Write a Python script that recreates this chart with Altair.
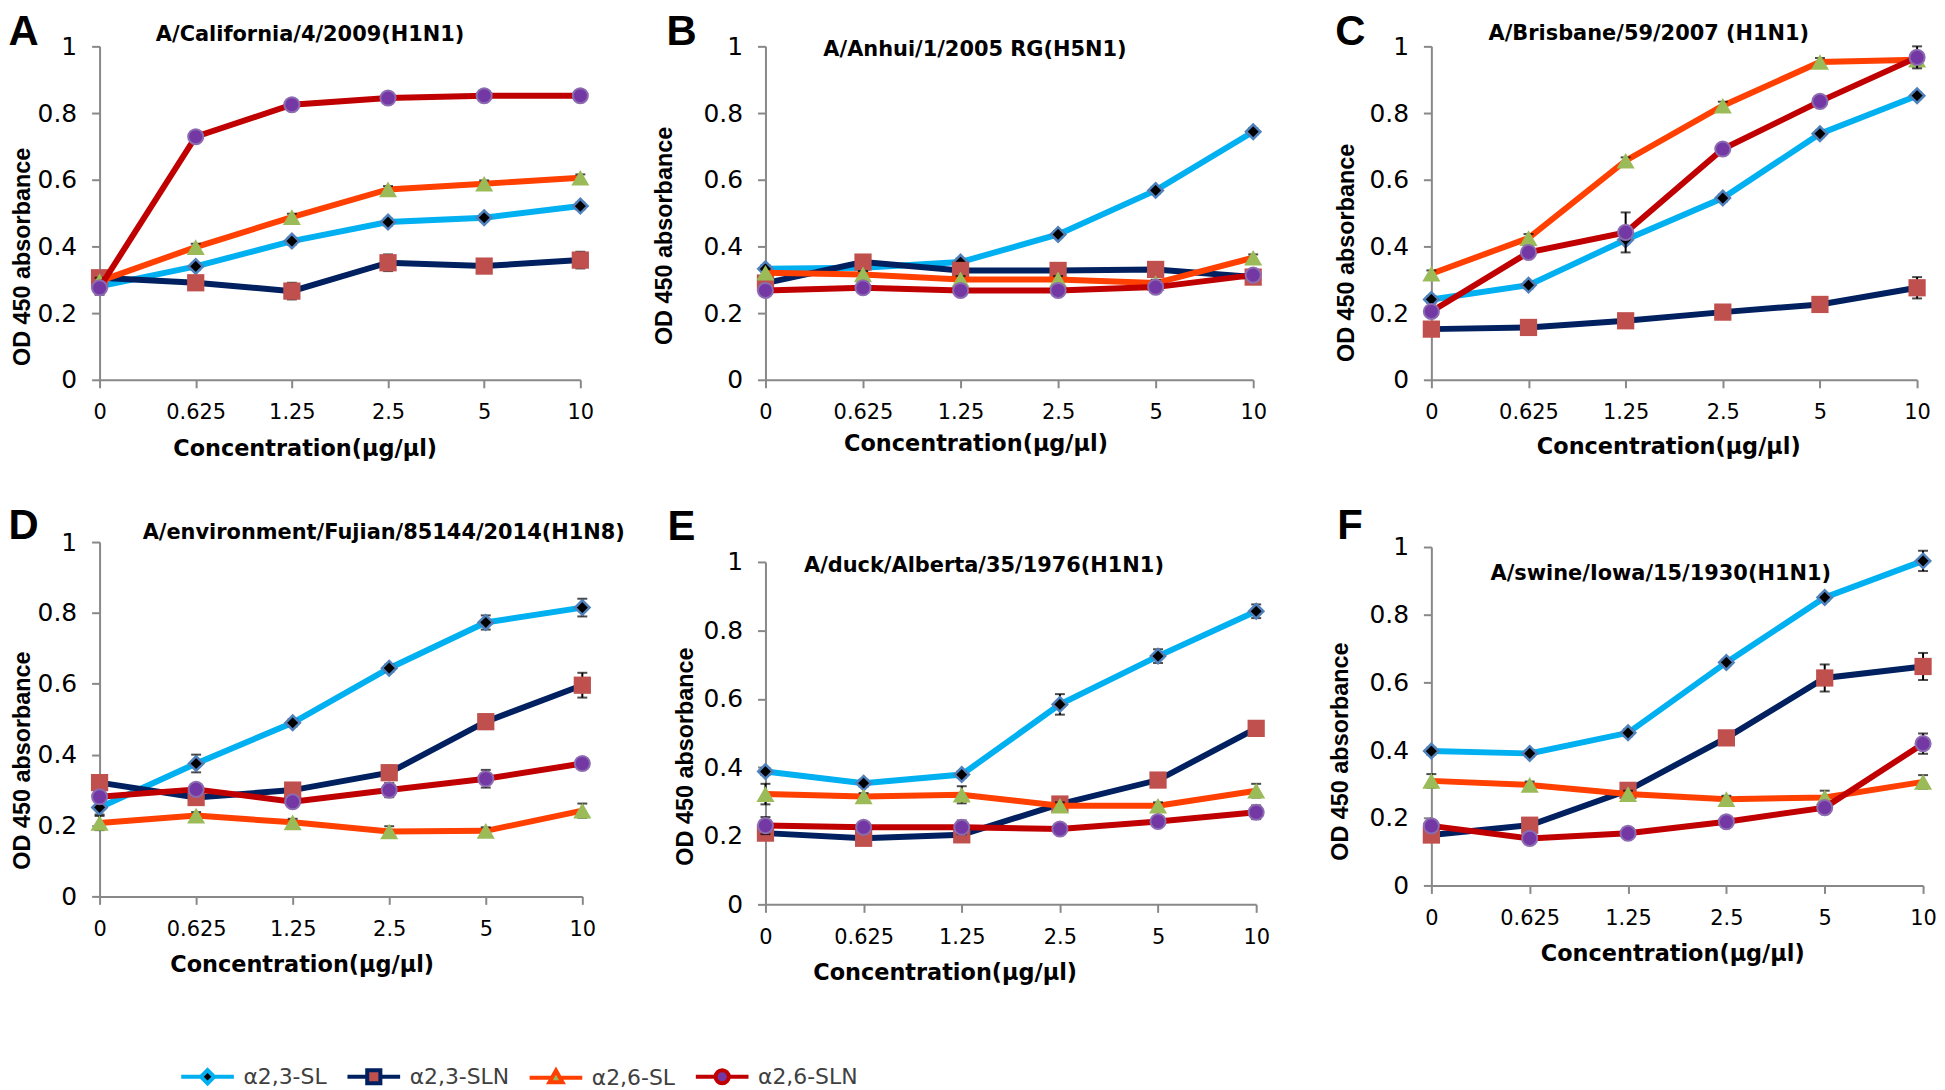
import altair as alt
import pandas as pd

# ---------------- data ----------------
concs = ["0", "0.625", "1.25", "2.5", "5", "10"]
series = ["α2,3-SL", "α2,3-SLN", "α2,6-SL", "α2,6-SLN"]
y_ticks = [0, 0.2, 0.4, 0.6, 0.8, 1]

letters = ["A", "B", "C", "D", "E", "F"]
strains = [
    "A/California/4/2009(H1N1)",
    "A/Anhui/1/2005 RG(H5N1)",
    "A/Brisbane/59/2007 (H1N1)",
    "A/environment/Fujian/85144/2014(H1N8)",
    "A/duck/Alberta/35/1976(H1N1)",
    "A/swine/Iowa/15/1930(H1N1)",
]

# panel A
a_sl23 = [0.280, 0.340, 0.416, 0.473, 0.486, 0.521]
a_sln23 = [0.306, 0.291, 0.266, 0.351, 0.341, 0.359]
a_sl26 = [0.296, 0.398, 0.488, 0.571, 0.588, 0.606]
a_sln26 = [0.276, 0.729, 0.825, 0.845, 0.852, 0.852]
a_sl23_err = [0.025, 0.01, 0.01, 0.01, 0.01, 0.01]
a_sln23_err = [0.01, 0.01, 0.025, 0.025, 0.01, 0.025]
a_sl26_err = [0.01, 0.01, 0.01, 0.01, 0.01, 0.01]
a_sln26_err = [0.01, 0.01, 0.01, 0.01, 0.01, 0.01]

# panel B
b_sl23 = [0.333, 0.336, 0.353, 0.436, 0.568, 0.744]
b_sln23 = [0.290, 0.353, 0.328, 0.328, 0.331, 0.308]
b_sl26 = [0.321, 0.316, 0.301, 0.301, 0.290, 0.366]
b_sln26 = [0.268, 0.276, 0.268, 0.268, 0.278, 0.314]
b_sl23_err = [0.01, 0.01, 0.01, 0.01, 0.01, 0.01]
b_sln23_err = [0.01, 0.01, 0.01, 0.01, 0.01, 0.01]
b_sl26_err = [0.01, 0.01, 0.01, 0.01, 0.01, 0.01]
b_sln26_err = [0.01, 0.01, 0.01, 0.01, 0.01, 0.01]

# panel C
c_sl23 = [0.241, 0.284, 0.420, 0.545, 0.738, 0.852]
c_sln23 = [0.152, 0.157, 0.177, 0.203, 0.226, 0.276]
c_sl26 = [0.318, 0.425, 0.657, 0.822, 0.953, 0.960]
c_sln26 = [0.205, 0.382, 0.442, 0.692, 0.835, 0.967]
c_sl23_err = [0.01, 0.01, 0.01, 0.01, 0.01, 0.01]
c_sln23_err = [0.01, 0.01, 0.01, 0.01, 0.01, 0.032]
c_sl26_err = [0.01, 0.012, 0.01, 0.012, 0.012, 0.01]
c_sln26_err = [0.01, 0.01, 0.06, 0.01, 0.015, 0.033]

# panel D
d_sl23 = [0.251, 0.375, 0.490, 0.644, 0.773, 0.815]
d_sln23 = [0.321, 0.279, 0.300, 0.349, 0.493, 0.596]
d_sl26 = [0.207, 0.228, 0.209, 0.183, 0.185, 0.242]
d_sln26 = [0.281, 0.302, 0.267, 0.300, 0.332, 0.375]
d_sl23_err = [0.02, 0.025, 0.01, 0.01, 0.02, 0.025]
d_sln23_err = [0.01, 0.02, 0.01, 0.02, 0.02, 0.035]
d_sl26_err = [0.02, 0.01, 0.01, 0.015, 0.01, 0.02]
d_sln26_err = [0.01, 0.01, 0.01, 0.02, 0.025, 0.01]

# panel E
e_sl23 = [0.388, 0.354, 0.379, 0.584, 0.725, 0.856]
e_sln23 = [0.208, 0.193, 0.203, 0.293, 0.363, 0.514]
e_sl26 = [0.322, 0.315, 0.320, 0.288, 0.288, 0.332]
e_sln26 = [0.230, 0.225, 0.225, 0.220, 0.242, 0.269]
e_sl23_err = [0.01, 0.01, 0.01, 0.03, 0.02, 0.02]
e_sln23_err = [0.01, 0.01, 0.01, 0.015, 0.01, 0.015]
e_sl26_err = [0.03, 0.01, 0.025, 0.01, 0.01, 0.02]
e_sln26_err = [0.025, 0.01, 0.02, 0.01, 0.01, 0.02]

# panel F
f_sl23 = [0.397, 0.390, 0.451, 0.659, 0.851, 0.959]
f_sln23 = [0.149, 0.178, 0.281, 0.436, 0.613, 0.647]
f_sl26 = [0.309, 0.297, 0.270, 0.255, 0.260, 0.306]
f_sln26 = [0.176, 0.139, 0.154, 0.188, 0.230, 0.419]
f_sl23_err = [0.01, 0.01, 0.01, 0.01, 0.01, 0.03]
f_sln23_err = [0.01, 0.01, 0.01, 0.02, 0.04, 0.04]
f_sl26_err = [0.02, 0.01, 0.01, 0.01, 0.02, 0.02]
f_sln26_err = [0.01, 0.01, 0.01, 0.01, 0.01, 0.03]

panel_values = [
    [a_sl23, a_sln23, a_sl26, a_sln26],
    [b_sl23, b_sln23, b_sl26, b_sln26],
    [c_sl23, c_sln23, c_sl26, c_sln26],
    [d_sl23, d_sln23, d_sl26, d_sln26],
    [e_sl23, e_sln23, e_sl26, e_sln26],
    [f_sl23, f_sln23, f_sl26, f_sln26],
]
panel_errors = [
    [a_sl23_err, a_sln23_err, a_sl26_err, a_sln26_err],
    [b_sl23_err, b_sln23_err, b_sl26_err, b_sln26_err],
    [c_sl23_err, c_sln23_err, c_sl26_err, c_sln26_err],
    [d_sl23_err, d_sln23_err, d_sl26_err, d_sln26_err],
    [e_sl23_err, e_sln23_err, e_sl26_err, e_sln26_err],
    [f_sl23_err, f_sln23_err, f_sl26_err, f_sln26_err],
]

# ---------------- styles ----------------
line_colors = ["#00B0F0", "#002060", "#FF4000", "#C00000"]
marker_fills = ["#000000", "#C0504D", "#9BBB59", "#7338A4"]
marker_strokes = ["#4F81BD", "#C0504D", "#9BBB59", "#8C6BB1"]
marker_stroke_w = [2.5, 0, 0, 2]
marker_shapes = ["diamond", "square", "triangle-up", "circle"]
marker_sizes = [210, 300, 330, 230]
# legend symbols: line segment with the series marker in the middle
legend_paths = [
    "M-4,0H-1M1,0H4M0,-1L1,0L0,1L-1,0Z",
    "M-4,0H-1M1,0H4M-1,-1H1V1H-1Z",
    "M-4,0H-0.6M0.6,0H4M0,-1.1L1,0.7H-1Z",
    "M-4,0H-1M1,0H4M-1,0A1,1,0,1,0,1,0A1,1,0,1,0,-1,0Z",
]
AXC = "#888888"
WIDE = "DejaVu Sans"
ARIAL = "Liberation Sans"

layout = [
    dict(w=483, h=335, yr=None, ytx=-70, yty=211, xtx=206, xty=76, stx=211, sty=-6, ltx=-575, lty=-2),
    dict(w=490, h=335, yr=None, ytx=-94, yty=190, xtx=211, xty=71, stx=210, sty=9, ltx=-590, lty=-2),
    dict(w=488, h=335, yr=None, ytx=-78, yty=207, xtx=238, xty=74, stx=218, sty=-7, ltx=-585, lty=-2),
    dict(w=485, h=356, yr=[356, 0], ytx=-70, yty=219, xtx=203, xty=75, stx=285, sty=-4, ltx=-577, lty=-4),
    dict(w=493, h=364, yr=[364, 20], ytx=-73, yty=215, xtx=180, xty=76, stx=219, sty=30, ltx=-592, lty=-3),
    dict(w=494, h=345, yr=[345, 5], ytx=-84, yty=210, xtx=242, xty=75, stx=230, sty=38, ltx=-589, lty=-4),
]


def frame(vals, errs):
    rows = []
    for si, name in enumerate(series):
        for ci, c in enumerate(concs):
            v = vals[si][ci]
            e = errs[si][ci]
            rows.append(dict(series=name, conc=c, ci=ci, od=v, lo=v - e, hi=v + e))
    return pd.DataFrame(rows)


legend = alt.Legend(
    orient="none", legendX=81, legendY=1024, direction="horizontal",
    symbolSize=175, symbolStrokeWidth=4, symbolOffset=16.5, labelOffset=25,
    labelFont=WIDE, labelFontSize=22, labelColor="#404040", columnPadding=12,
)


def panel(i):
    L = layout[i]
    df = frame(panel_values[i], panel_errors[i])
    xs = alt.Scale(type="point", padding=0, domain=concs)
    if L["yr"] is None:
        ys = alt.Scale(domain=[0, 1], nice=False)
    else:
        ys = alt.Scale(domain=[0, 1], nice=False, range=L["yr"])

    x_axis = alt.Axis(
        title="Concentration(μg/μl)", labelAngle=0, labelFont=WIDE, labelFontSize=21,
        labelColor="#000000", labelPadding=14, tickSize=8, tickWidth=2, tickColor=AXC,
        domainColor=AXC, domainWidth=2, grid=False,
        titleFont=WIDE, titleFontSize=22.5, titleFontWeight="bold", titleColor="#000000",
        titleX=L["xtx"], titleY=L["xty"], titleAlign="center", titleBaseline="alphabetic",
    )
    y_axis = alt.Axis(
        values=y_ticks, format="~g", title="OD  450 absorbance",
        labelFont=WIDE, labelFontSize=25, labelColor="#000000", labelPadding=15,
        tickSize=8, tickWidth=2, tickColor=AXC, domainColor=AXC, domainWidth=2, grid=False,
        titleFont=ARIAL, titleFontSize=23.5, titleFontWeight="bold", titleColor="#000000",
        titleAngle=270, titleX=L["ytx"], titleY=L["yty"], titleAlign="center",
        titleBaseline="alphabetic",
    )
    top_axis = alt.Axis(
        orient="top", title=strains[i], labels=False, ticks=False, domain=False, grid=False,
        titleFont=WIDE, titleFontSize=21, titleFontWeight="bold", titleColor="#000000",
        titleX=L["stx"], titleY=L["sty"], titleAlign="center", titleBaseline="alphabetic",
    )
    right_axis = alt.Axis(
        orient="right", title=letters[i], labels=False, ticks=False, domain=False, grid=False,
        titleFont=ARIAL, titleFontSize=42, titleFontWeight="bold", titleColor="#000000",
        titleAngle=0, titleX=L["ltx"], titleY=L["lty"], titleAlign="left",
        titleBaseline="alphabetic",
    )

    base = alt.Chart(df)
    x_plain = alt.X("conc:N", scale=xs, axis=None)
    layers = []
    for si, name in enumerate(series):
        sub = base.transform_filter(alt.datum.series == name)
        if si == 0:
            xe = alt.X("conc:N", scale=xs, axis=x_axis)
            ye = alt.Y("od:Q", scale=ys, axis=y_axis)
        else:
            xe = x_plain
            ye = alt.Y("od:Q", scale=ys, axis=None)
        layers.append(sub.mark_line(strokeWidth=6, color=line_colors[si]).encode(
            x=xe, y=ye, order=alt.Order("ci:Q")))
        layers.append(sub.mark_rule(color="black", strokeWidth=2).encode(
            x=x_plain, y=alt.Y("lo:Q", scale=ys, axis=None), y2="hi:Q"))
        layers.append(sub.mark_tick(color="black", thickness=2, size=10).encode(
            x=x_plain, y=alt.Y("lo:Q", scale=ys, axis=None)))
        layers.append(sub.mark_tick(color="black", thickness=2, size=10).encode(
            x=x_plain, y=alt.Y("hi:Q", scale=ys, axis=None)))
        layers.append(sub.mark_point(filled=True, shape=marker_shapes[si],
                                     size=marker_sizes[si], fill=marker_fills[si],
                                     stroke=marker_strokes[si],
                                     strokeWidth=marker_stroke_w[si],
                                     opacity=1).encode(
            x=x_plain, y=alt.Y("od:Q", scale=ys, axis=None)))

    layers.append(base.mark_point(opacity=0).encode(
        x=alt.X("conc:N", scale=xs, axis=top_axis),
        y=alt.Y("od:Q", scale=ys, axis=right_axis),
    ))

    if i == 0:
        layers.append(base.transform_filter("false").mark_point(filled=True, opacity=1).encode(
            shape=alt.Shape("series:N", title=None,
                            scale=alt.Scale(domain=series, range=legend_paths), legend=legend),
            fill=alt.Fill("series:N", title=None,
                          scale=alt.Scale(domain=series, range=marker_fills), legend=legend),
            stroke=alt.Stroke("series:N", title=None,
                              scale=alt.Scale(domain=series, range=line_colors), legend=legend),
        ))

    return alt.layer(*layers).resolve_axis(
        x="independent", y="independent"
    ).properties(width=L["w"], height=L["h"])


chart = alt.concat(
    *[panel(i) for i in range(6)],
    columns=3,
    spacing={"row": 134, "column": 175},
    bounds="flush",
    align="all",
).resolve_scale(
    x="independent", y="independent"
).properties(
    padding=0, background="white"
).configure_view(strokeWidth=0)

chart.save("out.html", embed_options={"renderer": "svg", "actions": False})
